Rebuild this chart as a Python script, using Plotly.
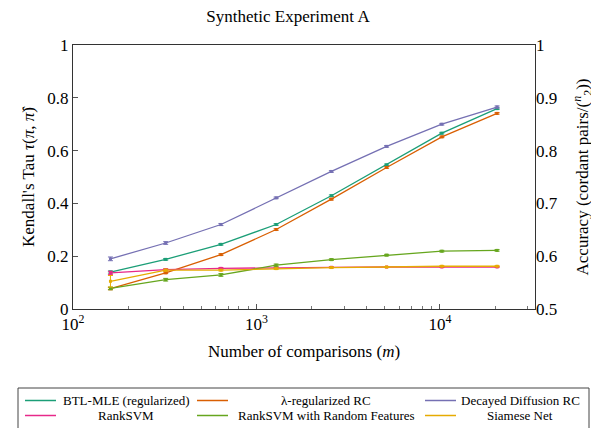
import plotly.graph_objects as go

# ---------------- data ----------------
m_values = [160, 320, 640, 1280, 2560, 5120, 10240, 20480]

series_names = [
    "BTL-MLE (regularized)",
    "λ-regularized RC",
    "Decayed Diffusion RC",
    "RankSVM",
    "RankSVM with Random Features",
    "Siamese Net",
]

btl_mle = [0.140, 0.188, 0.245, 0.320, 0.429, 0.546, 0.666, 0.759]
lambda_rc = [0.077, 0.137, 0.206, 0.301, 0.416, 0.536, 0.652, 0.741]
decayed_rc = [0.190, 0.250, 0.320, 0.421, 0.521, 0.616, 0.700, 0.765]
ranksvm = [0.137, 0.149, 0.154, 0.157, 0.158, 0.159, 0.159, 0.159]
ranksvm_rf = [0.078, 0.111, 0.129, 0.166, 0.187, 0.204, 0.219, 0.222]
siamese = [0.105, 0.147, 0.147, 0.153, 0.157, 0.159, 0.162, 0.162]

btl_err = [0.004, 0.003, 0.003, 0.003, 0.003, 0.003, 0.003, 0.003]
lambda_err = [0.004, 0.003, 0.003, 0.003, 0.003, 0.003, 0.003, 0.003]
decayed_err = [0.007, 0.005, 0.004, 0.003, 0.003, 0.003, 0.003, 0.004]
ranksvm_err = [0.006, 0.004, 0.003, 0.002, 0.002, 0.002, 0.002, 0.002]
ranksvm_rf_err = [0.005, 0.005, 0.005, 0.004, 0.003, 0.003, 0.003, 0.003]
siamese_err = [0.022, 0.004, 0.003, 0.003, 0.002, 0.002, 0.002, 0.002]

colors = ["#1b9e77", "#d95f02", "#7570b3", "#e7298a", "#66a61e", "#e6ab02"]

x_major_ticks = [100, 1000, 10000]
x_major_text = ["10<sup>2</sup>", "10<sup>3</sup>", "10<sup>4</sup>"]
x_minor_ticks = [200, 300, 400, 500, 600, 700, 800, 900,
                 2000, 3000, 4000, 5000, 6000, 7000, 8000, 9000,
                 20000, 30000]
y_ticks = [0, 0.2, 0.4, 0.6, 0.8, 1]
y_tick_text = ["0", "0.2", "0.4", "0.6", "0.8", "1"]
y2_ticks = [0.5, 0.6, 0.7, 0.8, 0.9, 1]
y2_tick_text = ["0.5", "0.6", "0.7", "0.8", "0.9", "1"]

all_values = [btl_mle, lambda_rc, decayed_rc, ranksvm, ranksvm_rf, siamese]
all_errors = [btl_err, lambda_err, decayed_err, ranksvm_err, ranksvm_rf_err, siamese_err]

FONT = "Liberation Serif"
FS = 17

# page body margin of the browser (8px) is compensated
OFF = 8
W, H = 599 - OFF, 428 - OFF

fig = go.Figure()
for name, vals, errs, col in zip(series_names, all_values, all_errors, colors):
    fig.add_trace(go.Scatter(
        x=m_values, y=vals, name=name, mode="lines+markers",
        line=dict(color=col, width=1.3),
        marker=dict(symbol="square", size=3, color=col),
        error_y=dict(type="data", array=errs, color=col, thickness=1, width=2.5),
        showlegend=False,
    ))

# invisible trace to activate right axis
fig.add_trace(go.Scatter(x=[m_values[0]], y=[y2_ticks[0]], yaxis="y2",
                         mode="markers", marker=dict(opacity=0),
                         showlegend=False, hoverinfo="skip"))

# ---------- custom legend (pgfplots style) ----------
plot_left, plot_right = 73 - OFF, 535 - OFF
plot_top, plot_bottom = 45 - OFF, 309 - OFF
plot_width = plot_right - plot_left
plot_height = plot_bottom - plot_top

def px_x(p):
    return (p - OFF - plot_left) / plot_width

def px_y(p):
    return (plot_bottom - (p - OFF)) / plot_height

col_line_start = [25, 197, 425]
col_text_center = [126, 326, 520]
row_y = [400.5, 415.5]
line_len = 31

shapes = [dict(type="rect", xref="paper", yref="paper",
               x0=px_x(18), x1=px_x(589), y0=px_y(388), y1=px_y(432),
               line=dict(color="#444", width=1), fillcolor="white")]
annotations = []
for i, (name, col) in enumerate(zip(series_names, colors)):
    r, c = divmod(i, 3)
    shapes.append(dict(type="line", xref="paper", yref="paper",
                       x0=px_x(col_line_start[c]), x1=px_x(col_line_start[c] + line_len),
                       y0=px_y(row_y[r]), y1=px_y(row_y[r]),
                       line=dict(color=col, width=1.5)))
    annotations.append(dict(text=name, xref="paper", yref="paper",
                            x=px_x(col_text_center[c]), y=px_y(row_y[r]),
                            xanchor="center", yanchor="middle", showarrow=False,
                            font=dict(family=FONT, size=13, color="black")))

axis_common = dict(showline=True, linecolor="#333", linewidth=1, mirror=True,
                   ticks="inside", ticklen=5, tickcolor="#555", showgrid=False,
                   zeroline=False, tickfont=dict(family=FONT, size=FS, color="black"))

fig.update_layout(
    width=W, height=H,
    margin=dict(l=plot_left, r=W - plot_right, t=plot_top, b=H - plot_bottom, autoexpand=False),
    paper_bgcolor="white", plot_bgcolor="white",
    title=dict(text="Synthetic Experiment A", x=(288 - OFF) / W, xanchor="center",
               y=1 - 2 / H, yanchor="top",
               font=dict(family=FONT, size=FS, color="black")),
    xaxis=dict(type="log", range=[2, 4.518], tickvals=x_major_ticks, ticktext=x_major_text,
               minor=dict(tickvals=x_minor_ticks, ticks="inside", ticklen=3, tickcolor="#777"),
               title=dict(text="Number of comparisons (<i>m</i>)", standoff=11,
                          font=dict(family=FONT, size=FS, color="black")),
               **axis_common),
    yaxis=dict(range=[0, 1], tickvals=y_ticks, ticktext=y_tick_text,
               title=dict(text="Kendall's Tau <i>τ</i>(<i>π</i>, <i>π̂</i>)", standoff=8,
                          font=dict(family=FONT, size=FS, color="black")),
               **axis_common),
    yaxis2=dict(range=[0.5, 1], overlaying="y", side="right", tickvals=y2_ticks,
                ticktext=y2_tick_text, showline=False, ticks="",
                showgrid=False, zeroline=False,
                tickfont=dict(family=FONT, size=FS, color="black"),
                title=dict(text="Accuracy (cordant pairs/(<sup><i>n</i></sup><sub>2</sub>))", standoff=19,
                           font=dict(family=FONT, size=FS, color="black"))),
    shapes=shapes,
    annotations=annotations,
)

fig.write_html("out.html")
